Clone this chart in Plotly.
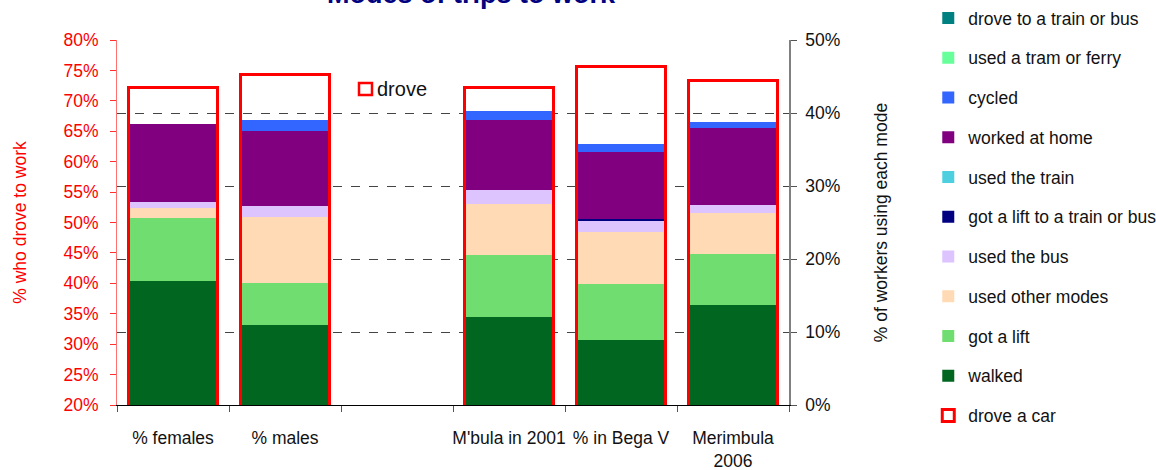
import plotly.graph_objects as go

# Categories (the blank slot separates the gender split from the town figures)
categories = ["% females", "% males", " ", "M'bula in 2001", "% in Bega V", "Merimbula<br>2006"]

# % who drove to work (left axis)
drove_car = [72.2, 74.3, None, 72.2, 75.7, 73.4]

# % of workers using each mode (right axis), stacked bottom to top
walked = [17.0, 11.0, None, 12.0, 8.9, 13.7]
got_a_lift = [8.6, 5.7, None, 8.5, 7.7, 7.0]
used_other_modes = [1.4, 9.0, None, 7.1, 7.1, 5.6]
used_the_bus = [0.8, 1.5, None, 1.8, 1.6, 1.1]
lift_to_train_or_bus = [0.0, 0.0, None, 0.0, 0.2, 0.0]
used_the_train = [0.0, 0.0, None, 0.0, 0.0, 0.0]
worked_at_home = [10.7, 10.3, None, 9.7, 9.2, 10.6]
cycled = [0.0, 1.5, None, 1.2, 1.0, 0.8]
tram_or_ferry = [0.0, 0.0, None, 0.0, 0.0, 0.0]
drove_to_train_or_bus = [0.0, 0.0, None, 0.0, 0.0, 0.0]

left_ticks = [20, 25, 30, 35, 40, 45, 50, 55, 60, 65, 70, 75, 80]
right_ticks = [0, 10, 20, 30, 40, 50]

modes = [
    ("walked", walked, "#006620"),
    ("got a lift", got_a_lift, "#70DD70"),
    ("used other modes", used_other_modes, "#FFDAB4"),
    ("used the bus", used_the_bus, "#DDC4FF"),
    ("got a lift to a train or bus", lift_to_train_or_bus, "#000080"),
    ("used the train", used_the_train, "#4DCFDF"),
    ("worked at home", worked_at_home, "#800080"),
    ("cycled", cycled, "#3366FF"),
    ("used a tram or ferry", tram_or_ferry, "#66FF99"),
    ("drove to a train or bus", drove_to_train_or_bus, "#008080"),
]

FONT = "Liberation Sans, Arial, sans-serif"
AXIS_BASE = 20
N_MODES = len(modes)

fig = go.Figure()

# Car drivers: hollow red boxes on the left axis, rising from the axis floor
fig.add_trace(go.Bar(
    x=categories,
    y=[None if v is None else v - AXIS_BASE for v in drove_car],
    base=AXIS_BASE,
    name="drove a car",
    legendgroup="drove a car",
    legendrank=N_MODES + 1,
    width=0.8,
    marker=dict(color="rgba(255,255,255,0)", line=dict(color="#FF0000", width=3)),
    yaxis="y",
))

# Stacked modes; the legend lists them top-down, opposite to the stacking order
for i, (name, vals, color) in enumerate(modes):
    fig.add_trace(go.Bar(
        x=categories,
        y=vals,
        name=name,
        legendgroup=name,
        legendrank=N_MODES - i,
        width=0.77,
        marker=dict(color=color, line=dict(width=0)),
        yaxis="y2",
    ))

fig.update_layout(
    width=1156,
    height=470,
    barmode="stack",
    plot_bgcolor="white",
    paper_bgcolor="white",
    font=dict(family=FONT, size=17.5, color="#111111"),
    margin=dict(l=117, r=367, t=40, b=65, autoexpand=False),
    showlegend=True,
    legend=dict(
        traceorder="grouped",
        tracegroupgap=14,
        maxheight=1,
        xref="container", yref="container",
        x=0.803, y=1.0, xanchor="left", yanchor="top",
        font=dict(family=FONT, size=17.5, color="#111111"),
        bgcolor="rgba(255,255,255,0)",
    ),
    xaxis=dict(
        type="category",
        categoryorder="array",
        categoryarray=categories,
        range=[-0.5, 5.5],
        showline=True, linecolor="black", linewidth=1,
        ticks="outside", tickson="boundaries", ticklen=6, tickcolor="#555555",
        tickangle=0,
        ticklabelstandoff=17,
        tickfont=dict(size=17.5, color="#111111"),
        showgrid=False,
        automargin=False,
    ),
    yaxis=dict(
        range=[20, 80],
        tickmode="array",
        tickvals=left_ticks,
        ticktext=[f"{v}%" for v in left_ticks],
        tickfont=dict(size=17.5, color="#FF0000"),
        showline=True, linecolor="#FF7070", linewidth=1,
        ticks="outside", ticklen=6, tickcolor="#FF3030",
        ticklabelstandoff=8,
        showgrid=False, zeroline=False,
        automargin=False,
        title=dict(text="% who drove to work", font=dict(size=17.5, color="#FF0000"), standoff=32),
    ),
    yaxis2=dict(
        range=[0, 50],
        tickmode="array",
        tickvals=right_ticks,
        ticktext=[f"{v}%" for v in right_ticks],
        overlaying="y",
        side="right",
        tickfont=dict(size=17.5, color="#111111"),
        showline=True, linecolor="#808080", linewidth=1.5,
        ticks="outside", ticklen=6, tickcolor="#555555",
        ticklabelstandoff=5,
        showgrid=True, gridcolor="#444444", griddash="dash", gridwidth=1,
        zeroline=False,
        automargin=False,
        title=dict(text="% of workers using each mode", font=dict(size=17.5, color="#111111"), standoff=35),
    ),
)

# Chart title
fig.add_annotation(
    text="<b>Modes of trips to work</b>",
    xref="paper", yref="paper", x=0.528, y=1.079,
    xanchor="center", yanchor="bottom", showarrow=False,
    font=dict(family=FONT, size=27, color="#000080"),
)

# In-plot key for the hollow "drove" boxes
fig.add_shape(
    type="rect", xref="paper", yref="paper",
    x0=(359 - 117) / 672, x1=(372 - 117) / 672,
    y0=(405 - 95) / 365, y1=(405 - 83) / 365,
    line=dict(color="#FF0000", width=2.5), fillcolor="white",
)
fig.add_annotation(
    text="drove", xref="paper", yref="paper",
    x=(375 - 117) / 672, y=(405 - 89) / 365,
    xanchor="left", yanchor="middle", showarrow=False,
    font=dict(family=FONT, size=20, color="#111111"),
)

fig.write_html("out.html")
